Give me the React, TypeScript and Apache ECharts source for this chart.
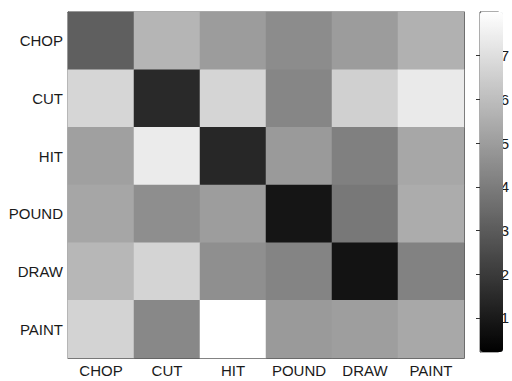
import React, { useEffect, useRef } from "react";
import * as echarts from "echarts";

const categories = ["CHOP", "CUT", "HIT", "POUND", "DRAW", "PAINT"];
// rows top->bottom (CHOP..PAINT), columns left->right (CHOP..PAINT)
const rowCHOP = [3.11, 5.74, 4.97, 4.48, 4.97, 5.61];
const rowCUT = [6.75, 1.48, 6.72, 4.3, 6.56, 7.36];
const rowHIT = [5.09, 7.39, 1.42, 4.91, 4.12, 5.31];
const rowPOUND = [5.28, 4.54, 5.0, 0.87, 3.87, 5.46];
const rowDRAW = [5.8, 6.68, 4.57, 4.24, 0.81, 4.18];
const rowPAINT = [6.65, 4.36, 8.0, 4.91, 5.03, 5.34];
const matrix = [rowCHOP, rowCUT, rowHIT, rowPOUND, rowDRAW, rowPAINT];
const colorMin = 0.22;
const colorMax = 8.0;
const colorTicks = [1, 2, 3, 4, 5, 6, 7];

export default function App() {
  const ref = useRef<HTMLDivElement>(null);
  useEffect(() => {
    if (!ref.current) return;
    const chart = echarts.init(ref.current, undefined, { renderer: "svg" });
    const data: number[][] = [];
    matrix.forEach((row, r) => row.forEach((v, c) => data.push([c, r, v])));
    const font = "'Liberation Sans', Arial, sans-serif";
    const frame = "#5a5a5a";
    chart.setOption({
      animation: false,
      backgroundColor: "#ffffff",
      grid: [
        { left: 68, top: 12, width: 396, height: 346, show: true, borderColor: frame, borderWidth: 1, backgroundColor: "transparent" },
        { left: 480, top: 12, width: 23, height: 340, show: true, borderColor: frame, borderWidth: 1, backgroundColor: "transparent" },
      ],
      xAxis: [
        {
          gridIndex: 0, type: "category", data: categories, position: "bottom",
          axisLine: { show: true, lineStyle: { color: frame } },
          axisTick: { show: true, inside: true, alignWithLabel: true, interval: 0, length: 4, lineStyle: { color: "#333" } },
          axisLabel: { color: "#1a1a1a", fontFamily: font, fontSize: 15, margin: 5, interval: 0, hideOverlap: false },
          splitLine: { show: false },
        },
        {
          gridIndex: 0, type: "category", data: categories, position: "top",
          axisLine: { show: true, lineStyle: { color: frame } },
          axisTick: { show: true, inside: true, alignWithLabel: true, interval: 0, length: 4, lineStyle: { color: "#333" } },
          axisLabel: { show: false },
          splitLine: { show: false },
        },
        { gridIndex: 1, type: "value", min: 0, max: 1, show: false },
      ],
      yAxis: [
        {
          gridIndex: 0, type: "category", data: categories, inverse: true, position: "left",
          axisLine: { show: true, lineStyle: { color: frame } },
          axisTick: { show: true, inside: true, alignWithLabel: true, interval: 0, length: 4, lineStyle: { color: "#333" } },
          axisLabel: { color: "#1a1a1a", fontFamily: font, fontSize: 15, margin: 5, interval: 0 },
          splitLine: { show: false },
        },
        {
          gridIndex: 0, type: "category", data: categories, inverse: true, position: "right",
          axisLine: { show: true, lineStyle: { color: frame } },
          axisTick: { show: true, inside: true, alignWithLabel: true, interval: 0, length: 4, lineStyle: { color: "#333" } },
          axisLabel: { show: false },
          splitLine: { show: false },
        },
        {
          gridIndex: 1, type: "value", min: colorMin, max: colorMax, position: "right",
          axisLine: { show: true, lineStyle: { color: frame } },
          axisTick: { show: true, inside: true, length: 4, customValues: colorTicks, lineStyle: { color: "#333" } },
          axisLabel: { color: "#1a1a1a", fontFamily: font, fontSize: 15, margin: 2, customValues: colorTicks },
          splitLine: { show: false },
        },
      ],
      visualMap: {
        type: "continuous",
        seriesIndex: 0,
        min: colorMin,
        max: colorMax,
        calculable: false,
        realtime: false,
        left: 480,
        top: 12,
        padding: 0,
        itemWidth: 23,
        itemHeight: 340,
        text: ["", ""],
        showLabel: false,
        hoverLink: false,
        inRange: { color: ["#000000", "#ffffff"] },
      },
      series: [
        {
          type: "heatmap",
          xAxisIndex: 0,
          yAxisIndex: 0,
          data,
          itemStyle: { borderWidth: 0 },
          emphasis: { disabled: true },
        },
        {
          type: "line",
          xAxisIndex: 2,
          yAxisIndex: 2,
          data: [],
          silent: true,
        },
      ],
    });
    return () => chart.dispose();
  }, []);
  return <div ref={ref} style={{ width: 512, height: 381, position: "absolute", left: 0, top: 0 }} />;
}
